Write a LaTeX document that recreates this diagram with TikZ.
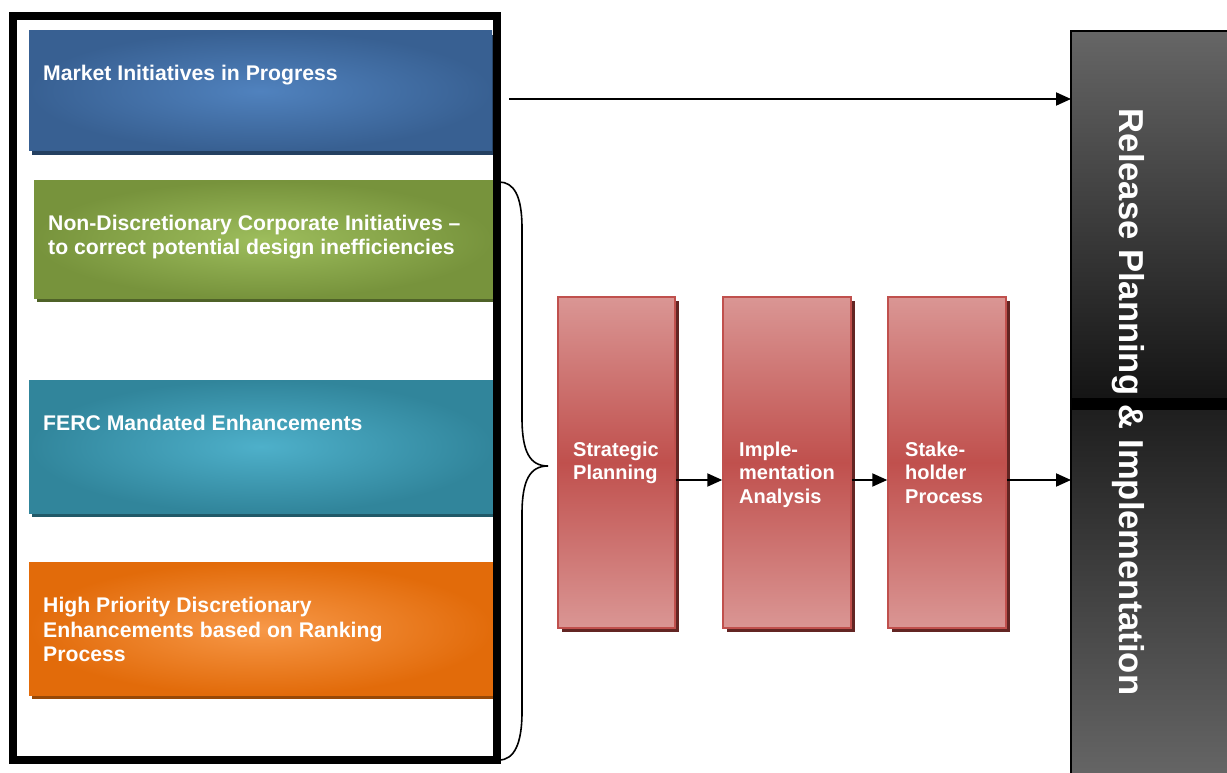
\documentclass[tikz,border=0pt]{standalone}
\usepackage{fontspec}
\setmainfont{Liberation Sans}
\usetikzlibrary{arrows.meta,shadows}
\definecolor{bluE}{RGB}{56,96,146}\definecolor{bluC}{RGB}{80,130,190}\definecolor{bluS}{RGB}{36,64,97}
\definecolor{grnE}{RGB}{119,147,60}\definecolor{grnC}{RGB}{157,189,92}\definecolor{grnS}{RGB}{79,98,40}
\definecolor{tealE}{RGB}{49,133,155}\definecolor{tealC}{RGB}{78,176,202}\definecolor{tealS}{RGB}{33,89,104}
\definecolor{orgE}{RGB}{226,107,10}\definecolor{orgC}{RGB}{247,152,72}\definecolor{orgS}{RGB}{152,72,6}
\definecolor{redL}{RGB}{218,150,148}\definecolor{redM}{RGB}{192,80,77}\definecolor{redS}{RGB}{99,37,35}
\definecolor{grayT}{RGB}{102,102,102}
\begin{document}
\begin{tikzpicture}[x=1pt,y=-1pt,
  inbox/.style n args={3}{rectangle, inner sep=0pt, inner color=#2, outer color=#1,
     drop shadow={shadow xshift=3pt, shadow yshift=-4pt, opacity=1, fill=#3}},
  redbox/.style={rectangle, inner sep=0pt, minimum width=117pt, minimum height=331pt,
     draw=redM, line width=1.5pt, top color=redL, bottom color=redL, middle color=redM,
     drop shadow={shadow xshift=4pt, shadow yshift=-4pt, opacity=1, fill=redS}},
  lbl/.style={text=white, font=\bfseries\fontsize{21.2}{24.5}\selectfont, align=left, inner sep=0pt},
  rlbl/.style={text=white, font=\bfseries\fontsize{20}{23.8}\selectfont, align=left, inner sep=0pt},
  arr/.style={line width=2pt, -{Triangle[length=15pt,width=13pt]}},
]
\useasboundingbox (0,0) rectangle (1227,773);
\clip (0,0) rectangle (1227,773);
% left boxes
\node[inbox={bluE}{bluC}{bluS}, minimum width=463pt, minimum height=120pt] (mkt) at (260.5,91) {};
\node[inbox={grnE}{grnC}{grnS}, minimum width=459pt, minimum height=117pt] (nd) at (263.5,239.5) {};
\node[inbox={tealE}{tealC}{tealS}, minimum width=464pt, minimum height=133pt] (ferc) at (261,446.5) {};
\node[inbox={orgE}{orgC}{orgS}, minimum width=464pt, minimum height=133pt] (hp) at (261,628.5) {};
\node[lbl, anchor=base west] (mktl) at (43,81) {Market Initiatives in Progress};
\node[lbl, anchor=north west] (ndl) at (48,214.5) {Non-Discretionary Corporate Initiatives --\\to correct potential design inefficiencies};
\node[lbl, anchor=base west] (fercl) at (43,430) {FERC Mandated Enhancements};
\node[lbl, anchor=north west] (hpl) at (43,597) {High Priority Discretionary\\Enhancements based on Ranking\\Process};
% frame
\draw[line width=8pt] (13,16) rectangle (497,760);
% brace
\coordinate (btip) at (548,466);
\draw[line width=1.6pt] (499,182) .. controls (514,182) and (522,196) .. (522,228) -- (522,418)
  .. controls (522,452) and (530,466) .. (btip)
  .. controls (530,466) and (522,480) .. (522,514) -- (522,712)
  .. controls (522,744) and (514,760) .. (499,760);
% red boxes
\node[redbox] (s1) at (616.5,462.5) {};
\node[redbox, minimum width=128pt] (s2) at (787,462.5) {};
\node[redbox, minimum width=118pt] (s3) at (947,462.5) {};
\node[rlbl, anchor=north west] (s1l) at (573,441.5) {Strategic\\Planning};
\node[rlbl, anchor=north west] (s2l) at (739,441.5) {Imple-\\mentation\\Analysis};
\node[rlbl, anchor=north west] (s3l) at (905,441.5) {Stake-\\holder\\Process};
% release box
\shade[top color=grayT, bottom color=black!92] (1071,31) rectangle (1240,398);
\fill[black] (1071,398) rectangle (1240,410);
\shade[top color=black!88, bottom color=grayT] (1071,410) rectangle (1240,780);
\draw[line width=2pt] (1240,31) -- (1071,31) -- (1071,780);
\coordinate (rpw) at (1071,400);
\node[text=white, font=\bfseries\fontsize{34.6}{38}\selectfont, rotate=-90, inner sep=0pt] (rpl) at (1128,402) {Release Planning \& Implementation};
% arrows
\coordinate (a0) at (509,99);
\coordinate (y1) at (0,480);
\draw[arr] (a0) -- (rpw |- a0);
\draw[arr] (s1.east |- y1) -- (s2.west |- y1);
\draw[arr] (s2.east |- y1) -- (s3.west |- y1);
\draw[arr] (s3.east |- y1) -- (rpw |- y1);
\end{tikzpicture}
\end{document}
